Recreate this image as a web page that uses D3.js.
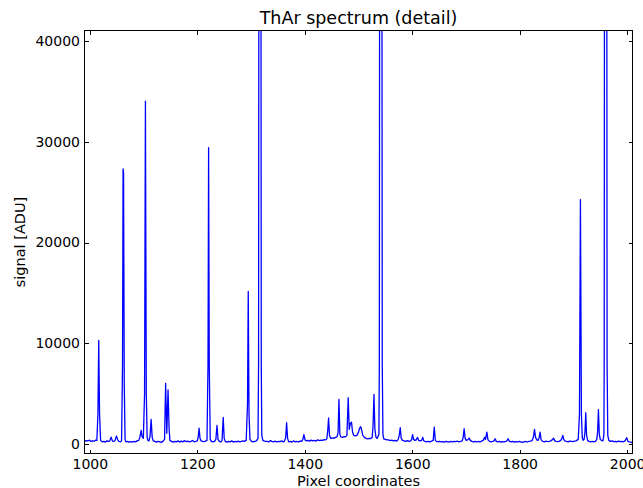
<html>
<head>
<meta charset="utf-8"/>
<title>ThAr spectrum (detail)</title>
<script src="https://cdn.jsdelivr.net/npm/d3@7"></script>
<style type="text/css">
  body { margin: 0; background: #fff; }
  .axis text { font-family: "DejaVu Sans", sans-serif; font-size: 14px; fill: #000; }
  .axis line { stroke: #000; stroke-width: 1; shape-rendering: crispEdges; }
  .label { font-family: "DejaVu Sans", sans-serif; font-size: 14.5px; }
</style>
</head>
<body>
<div id="chart"></div>
<script type="text/javascript">
// tick values
var xTicks = [1000, 1200, 1400, 1600, 1800, 2000];
var yTicks = [0, 10000, 20000, 30000, 40000];

// spectrum vertices: [pixel, signal ADU]
var spectrum = [
  [990, 300], [993, 380], [996, 340], [999, 420], [1002, 300], [1005, 360], [1008, 330], [1011, 420], [1013, 380],
  [1015, 3000], [1016.5, 10300], [1018, 3000], [1020, 400], [1023, 250], [1026, 300], [1029, 230], [1032, 350],
  [1035, 300], [1037, 350], [1039.5, 720], [1042, 330], [1045, 300], [1047, 420], [1049.5, 830], [1052, 420],
  [1054, 300], [1057, 250], [1059, 350], [1060.8, 8000], [1061.8, 27300], [1062.7, 26900], [1064, 6000],
  [1065.5, 500], [1067, 250], [1070, 300], [1073, 220], [1076, 280], [1079, 230], [1082, 300], [1085, 250],
  [1088, 350], [1091, 400], [1093, 700], [1095.5, 1400], [1097, 800], [1099.5, 600], [1101.8, 5000],
  [1103.4, 34000], [1105, 5000], [1106.6, 700], [1108, 400], [1110, 350], [1112, 800], [1114, 2480],
  [1116, 700], [1118, 350], [1121, 300], [1124, 220], [1127, 300], [1130, 260], [1133, 200], [1136, 300],
  [1139, 500], [1141, 6050], [1143.2, 1100], [1145.5, 5400], [1147.5, 1500], [1149, 400], [1152, 300],
  [1155, 220], [1158, 300], [1161, 250], [1164, 350], [1167, 230], [1170, 320], [1173, 250], [1176, 380],
  [1179, 270], [1182, 330], [1185, 260], [1188, 300], [1191, 380], [1194, 260], [1197, 300], [1200, 350],
  [1201.5, 700], [1203.3, 1600], [1205, 600], [1207, 350], [1210, 300], [1213, 280], [1216, 350], [1218, 400],
  [1219.9, 8000], [1221, 29400], [1222.2, 8000], [1224, 500], [1226, 300], [1229, 250], [1232, 300],
  [1234.5, 500], [1236.6, 1880], [1238.5, 500], [1241, 300], [1244, 260], [1246, 400], [1248.2, 2680],
  [1250, 600], [1252, 300], [1255, 220], [1258, 300], [1261, 250], [1264, 350], [1267, 230], [1270, 300],
  [1273, 250], [1276, 330], [1279, 260], [1282, 300], [1285, 350], [1288, 300], [1291, 400], [1293.4, 4000],
  [1294.8, 15150], [1296.2, 3000], [1298, 500], [1301, 300], [1304, 250], [1307, 300], [1310, 350], [1313, 600],
  [1314, 8000], [1314.5, 45000], [1316.5, 120000], [1318.5, 45000], [1319, 8000], [1320, 900], [1322, 400],
  [1324, 350], [1327, 300], [1330, 300], [1333, 250], [1336, 380], [1339, 300], [1342, 260], [1345, 320],
  [1348, 240], [1351, 300], [1354, 270], [1357, 350], [1360, 250], [1362, 300], [1364.5, 700], [1366.2, 2150],
  [1368, 600], [1370, 250], [1373, 300], [1376, 220], [1379, 350], [1382, 260], [1385, 300], [1388, 240],
  [1391, 330], [1394, 300], [1396.5, 500], [1398.4, 960], [1400.5, 450], [1403, 350], [1406, 400], [1409, 330],
  [1412, 420], [1415, 350], [1418, 400], [1421, 330], [1424, 450], [1427, 380], [1430, 420], [1433, 400],
  [1436, 480], [1439, 450], [1441, 550], [1442.8, 1400], [1444.3, 2620], [1446, 900], [1448, 600], [1451, 650],
  [1454, 600], [1457, 700], [1460, 750], [1462, 1200], [1463.6, 4450], [1465.3, 1000], [1467, 750], [1470, 700],
  [1473, 780], [1476, 750], [1478.5, 900], [1480.8, 4630], [1482.8, 1500], [1485, 2100], [1487, 2200],
  [1489, 1200], [1491, 900], [1494, 850], [1497, 900], [1500, 1200], [1502, 1600], [1504, 1750], [1506, 1400],
  [1508, 900], [1511, 700], [1514, 600], [1517, 550], [1520, 600], [1523, 580], [1525.5, 700], [1527, 1800],
  [1528.8, 4950], [1530.5, 1500], [1532.5, 700], [1535, 600], [1538, 1000], [1538.8, 8000], [1539.3, 45000],
  [1541.5, 120000], [1543.7, 45000], [1544.2, 8000], [1545.5, 1000], [1547, 550], [1550, 500], [1553, 450],
  [1556, 450], [1559, 380], [1562, 420], [1565, 350], [1568, 400], [1571, 330], [1573.5, 450], [1575.5, 800],
  [1577.7, 1650], [1579.5, 600], [1582, 400], [1585, 350], [1588, 300], [1591, 380], [1594, 300], [1597, 350],
  [1599, 500], [1600.6, 960], [1602.5, 500], [1605, 400], [1607.5, 450], [1610, 700], [1612, 400], [1615, 350],
  [1617.5, 400], [1619.6, 700], [1621.5, 350], [1624, 300], [1627, 250], [1630, 300], [1633, 250], [1636, 320],
  [1639, 400], [1641, 1720], [1643, 400], [1645, 300], [1648, 260], [1651, 300], [1654, 250], [1657, 280],
  [1660, 230], [1663, 300], [1666, 260], [1669, 240], [1672, 300], [1675, 250], [1678, 300], [1681, 280],
  [1684, 320], [1687, 260], [1690, 300], [1693, 350], [1694.8, 700], [1696.6, 1550], [1698.5, 600],
  [1700.5, 400], [1703, 450], [1706, 620], [1708, 400], [1711, 300], [1714, 250], [1717, 300], [1720, 240],
  [1723, 300], [1726, 260], [1729, 320], [1732, 400], [1734.8, 700], [1736.5, 500], [1738.9, 1220], [1741, 450],
  [1744, 300], [1747, 260], [1750, 300], [1752, 350], [1754.3, 560], [1756.5, 300], [1759, 250], [1762, 300],
  [1765, 230], [1768, 280], [1771, 250], [1774, 300], [1776, 350], [1778.5, 560], [1781, 300], [1784, 250],
  [1787, 300], [1790, 220], [1793, 280], [1796, 240], [1799, 300], [1802, 250], [1805, 200], [1808, 260],
  [1811, 300], [1814, 240], [1817, 300], [1820, 330], [1823, 380], [1825.5, 700], [1827.6, 1490], [1829.5, 700],
  [1832, 450], [1834, 400], [1836, 600], [1838, 1220], [1840, 450], [1843, 300], [1846, 250], [1849, 320],
  [1852, 280], [1855, 300], [1858, 350], [1860.5, 450], [1863, 620], [1865.5, 350], [1868, 300], [1871, 280],
  [1874, 330], [1876.5, 400], [1878.5, 600], [1880.3, 900], [1882, 500], [1884, 350], [1887, 300], [1890, 260],
  [1893, 330], [1896, 300], [1899, 270], [1902, 320], [1905, 350], [1909, 500], [1911.3, 3000], [1913.1, 24250],
  [1914.9, 3000], [1916.5, 700], [1918, 400], [1920, 500], [1921.5, 1200], [1923, 3140], [1924.5, 900],
  [1926.5, 400], [1929, 300], [1932, 250], [1935, 300], [1938, 260], [1941, 300], [1943.5, 500], [1945, 1200],
  [1946.6, 3440], [1948.2, 1000], [1950, 500], [1952, 400], [1955, 350], [1956.8, 1000], [1957.3, 8000],
  [1957.8, 45000], [1960, 120000], [1962.2, 45000], [1962.7, 8000], [1964, 900], [1966, 400], [1969, 300],
  [1972, 350], [1975, 270], [1978, 300], [1981, 250], [1984, 320], [1987, 270], [1990, 300], [1993, 260],
  [1996, 350], [1999.3, 660], [2001.5, 300], [2004, 250], [2007, 230], [2010, 150]
];

var w = 643;
var h = 488;
var plotL = 84.5, plotR = 632.5, plotT = 30.5, plotB = 453.5;

var svg = d3.select("#chart")
            .append("svg")
            .attr("width", w)
            .attr("height", h);

var xScale = d3.scaleLinear()
               .domain([990, 2010])
               .range([plotL, plotR]);

var yScale = d3.scaleLinear()
               .domain([-900, 41000])
               .range([plotB, plotT]);

svg.append("clipPath").attr("id", "clip")
   .append("rect")
   .attr("x", plotL).attr("y", plotT)
   .attr("width", plotR - plotL).attr("height", plotB - plotT);

var line = d3.line()
             .x(function(d) { return xScale(d[0]); })
             .y(function(d) { return yScale(d[1]); });

svg.append("path")
   .datum(spectrum)
   .attr("clip-path", "url(#clip)")
   .attr("d", line)
   .attr("fill", "none")
   .attr("stroke", "#0000ff")
   .attr("stroke-width", 1.3)
   .attr("stroke-linejoin", "round");

// axes, ticks pointing inward on all four sides
var xAxis = d3.axisBottom(xScale).tickValues(xTicks).tickSizeInner(-4).tickSizeOuter(0).tickPadding(6).tickFormat(d3.format("d"));
var xTop = d3.axisTop(xScale).tickValues(xTicks).tickSizeInner(-4).tickSizeOuter(0).tickFormat("");
var yAxis = d3.axisLeft(yScale).tickValues(yTicks).tickSizeInner(-4).tickSizeOuter(0).tickPadding(4.5).tickFormat(d3.format("d"));
var yRight = d3.axisRight(yScale).tickValues(yTicks).tickSizeInner(-4).tickSizeOuter(0).tickFormat("");

svg.append("g").attr("class", "axis").attr("transform", "translate(0," + plotB + ")").call(xAxis);
svg.append("g").attr("class", "axis").attr("transform", "translate(0," + plotT + ")").call(xTop);
svg.append("g").attr("class", "axis").attr("transform", "translate(" + plotL + ",0)").call(yAxis);
svg.append("g").attr("class", "axis").attr("transform", "translate(" + plotR + ",0)").call(yRight);
svg.selectAll(".axis .domain").remove();

svg.append("rect")
   .attr("x", plotL).attr("y", plotT)
   .attr("width", plotR - plotL).attr("height", plotB - plotT)
   .attr("fill", "none").attr("stroke", "#000").attr("stroke-width", 1);

svg.append("text")
   .attr("class", "label")
   .attr("x", (plotL + plotR) / 2).attr("y", 24)
   .attr("text-anchor", "middle")
   .style("font-size", "17.5px")
   .text("ThAr spectrum (detail)");

svg.append("text")
   .attr("class", "label")
   .attr("x", (plotL + plotR) / 2).attr("y", 485.5)
   .attr("text-anchor", "middle")
   .text("Pixel coordinates");

svg.append("text")
   .attr("class", "label")
   .attr("transform", "translate(25," + ((plotT + plotB) / 2) + ") rotate(-90)")
   .attr("text-anchor", "middle")
   .text("signal [ADU]");
</script>
</body>
</html>
